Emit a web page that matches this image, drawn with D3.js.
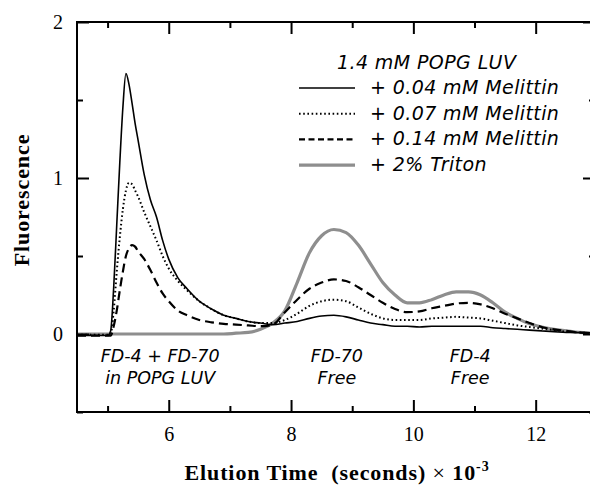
<!DOCTYPE html>
<html lang="en">
<head>
<meta charset="utf-8">
<title>Fluorescence vs elution time</title>
<script src="https://cdn.jsdelivr.net/npm/d3@7"></script>
<style>
  body { margin: 0; background: #fff; }
  .axis path { display: none; }
  .axis line { stroke: #000; stroke-width: 2; }
  .axis text { font-family: "Liberation Serif", serif; font-size: 20px; fill: #000; }
  .lbl { font-family: "DejaVu Sans", sans-serif; font-style: italic; font-size: 19px; letter-spacing: 0.4px; fill: #000; }
  .note { font-family: "DejaVu Sans", sans-serif; font-style: italic; font-size: 17.5px; fill: #000; }
  .title { font-family: "Liberation Serif", serif; font-weight: bold; font-size: 22px; letter-spacing: 0.9px; fill: #000; }
</style>
</head>
<body>
<div id="chart"></div>
<script>
// elution time (seconds x 10^-3), shared by all traces
var time = [4.5, 4.8, 5.0, 5.05, 5.1, 5.15, 5.2, 5.25, 5.3, 5.35, 5.4, 5.45, 5.5, 5.6, 5.7, 5.8, 5.9, 6.0, 6.15, 6.3,
            6.5, 6.7, 6.9, 7.1, 7.3, 7.5, 7.7, 7.9, 8.1, 8.3, 8.5, 8.7, 8.9, 9.1, 9.3, 9.5, 9.7, 9.9, 10.1, 10.3,
            10.5, 10.7, 10.9, 11.1, 11.3, 11.5, 11.7, 11.9, 12.1, 12.3, 12.5, 12.7, 12.97]

var mel004 = [-0.01, -0.01, -0.01, 0.02, 0.3, 0.7, 1.1, 1.45, 1.67, 1.6, 1.48, 1.35, 1.24, 1.02, 0.86, 0.75, 0.6, 0.48, 0.36, 0.29,
              0.21, 0.16, 0.12, 0.1, 0.08, 0.07, 0.06, 0.07, 0.08, 0.1, 0.115, 0.12, 0.11, 0.09, 0.07, 0.06, 0.05, 0.05, 0.045, 0.05,
              0.05, 0.05, 0.05, 0.05, 0.04, 0.035, 0.03, 0.025, 0.02, 0.015, 0.01, 0.01, 0.005]

var mel007 = [-0.005, -0.005, -0.005, 0.0, 0.15, 0.4, 0.62, 0.8, 0.92, 0.97, 0.96, 0.92, 0.88, 0.78, 0.69, 0.6, 0.5, 0.42, 0.34, 0.28,
              0.21, 0.16, 0.12, 0.1, 0.08, 0.07, 0.07, 0.09, 0.13, 0.18, 0.21, 0.22, 0.21, 0.17, 0.13, 0.1, 0.09, 0.09, 0.09, 0.1,
              0.105, 0.11, 0.105, 0.1, 0.085, 0.07, 0.055, 0.045, 0.035, 0.025, 0.015, 0.01, 0.005]

var mel014 = [-0.01, -0.01, -0.01, -0.01, 0.05, 0.15, 0.28, 0.4, 0.5, 0.55, 0.57, 0.56, 0.53, 0.48, 0.41, 0.33, 0.26, 0.21, 0.15, 0.12,
              0.09, 0.075, 0.065, 0.06, 0.055, 0.05, 0.06, 0.14, 0.22, 0.29, 0.33, 0.35, 0.34, 0.3, 0.25, 0.2, 0.16, 0.14, 0.145, 0.165,
              0.18, 0.195, 0.2, 0.19, 0.165, 0.13, 0.1, 0.07, 0.045, 0.03, 0.02, 0.01, 0.005]

var triton = [0.0, 0.0, 0.0, 0.0, 0.0, 0.0, 0.0, 0.0, 0.0, 0.0, 0.0, 0.0, 0.0, 0.0, 0.0, 0.0, 0.0, 0.0, 0.0, 0.0,
              0.0, 0.0, 0.0, 0.005, 0.01, 0.03, 0.07, 0.15, 0.33, 0.52, 0.63, 0.67, 0.65, 0.57, 0.45, 0.33, 0.25, 0.2, 0.2, 0.22,
              0.25, 0.27, 0.27, 0.25, 0.2, 0.14, 0.1, 0.065, 0.045, 0.03, 0.02, 0.01, 0.005]

var seriesNames = ["+ 0.04 mM Melittin", "+ 0.07 mM Melittin", "+ 0.14 mM Melittin", "+ 2% Triton"]
var legendTitle = "1.4 mM POPG LUV"
var xMajor = [6, 8, 10, 12]
var xMinor = [5, 7, 9, 11]
var yMajor = [0, 1, 2]
var yMinor = [-0.5, 0.5, 1.5]
var notes = [
  {t: 5.86, lines: ["FD-4 + FD-70", "in POPG LUV"]},
  {t: 8.75, lines: ["FD-70", "Free"]},
  {t: 10.93, lines: ["FD-4", "Free"]}
]

var w = 590, h = 486
var padL = 77, padR = 595, padT = 22, padB = 412

var svg = d3.select("#chart").append("svg")
            .attr("width", w)
            .attr("height", h)

var xScale = d3.scaleLinear().domain([4.5, 12.97]).range([padL, padR])
var yScale = d3.scaleLinear().domain([-0.5, 2]).range([padB, padT])

// styles for each trace
var styles = [
  {color: "#000", width: 1.6, dash: null},
  {color: "#000", width: 2, dash: "1.6,2.6"},
  {color: "#000", width: 2.2, dash: "9,5"},
  {color: "#8e8e8e", width: 3.2, dash: null}
]
var traces = [mel004, mel007, mel014, triton]

var line = d3.line()
             .x(function(d){ return xScale(d[0]) })
             .y(function(d){ return yScale(d[1]) })
             .curve(d3.curveMonotoneX)

// gray first so black traces sit on top
var order = [3, 2, 1, 0]
order.forEach(function(k){
  var pts = time.map(function(t, i){ return [t, traces[k][i]] })
  svg.append("path")
     .datum(pts)
     .attr("d", line)
     .attr("fill", "none")
     .attr("stroke", styles[k].color)
     .attr("stroke-width", styles[k].width)
     .attr("stroke-dasharray", styles[k].dash)
})

// frame
svg.append("rect")
   .attr("x", padL).attr("y", padT)
   .attr("width", padR - padL).attr("height", padB - padT)
   .attr("fill", "none").attr("stroke", "#000").attr("stroke-width", 2)

// axes, ticks pointing inward
svg.append("g").attr("class", "axis")
   .attr("transform", "translate(0," + padB + ")")
   .call(d3.axisBottom(xScale).tickValues(xMajor).tickSize(-12).tickPadding(15).tickFormat(d3.format("d")))
svg.append("g").attr("class", "axis")
   .attr("transform", "translate(0," + padB + ")")
   .call(d3.axisBottom(xScale).tickValues(xMinor).tickSize(-6).tickFormat(""))
svg.append("g").attr("class", "axis")
   .attr("transform", "translate(0," + padT + ")")
   .call(d3.axisTop(xScale).tickValues(xMajor).tickSize(-12).tickFormat(""))
svg.append("g").attr("class", "axis")
   .attr("transform", "translate(0," + padT + ")")
   .call(d3.axisTop(xScale).tickValues(xMinor).tickSize(-6).tickFormat(""))

svg.append("g").attr("class", "axis")
   .attr("transform", "translate(" + padL + ",0)")
   .call(d3.axisLeft(yScale).tickValues(yMajor).tickSize(-12).tickPadding(14).tickFormat(d3.format("d")))
svg.append("g").attr("class", "axis")
   .attr("transform", "translate(" + padL + ",0)")
   .call(d3.axisLeft(yScale).tickValues(yMinor).tickSize(-6).tickFormat(""))
svg.append("g").attr("class", "axis")
   .attr("transform", "translate(" + padR + ",0)")
   .call(d3.axisRight(yScale).tickValues(yMajor).tickSize(-12).tickFormat(""))
svg.append("g").attr("class", "axis")
   .attr("transform", "translate(" + padR + ",0)")
   .call(d3.axisRight(yScale).tickValues(yMinor).tickSize(-6).tickFormat(""))

// axis titles
svg.append("text").attr("class", "title")
   .attr("transform", "translate(29,200) rotate(-90)")
   .attr("text-anchor", "middle")
   .text("Fluorescence")

var xt = svg.append("text").attr("class", "title")
   .attr("x", 337).attr("y", 480)
   .attr("text-anchor", "middle")
xt.append("tspan").text("Elution Time\u00a0\u00a0(seconds) ")
xt.append("tspan").attr("font-weight", "normal").text("\u00d7")
xt.append("tspan").text(" 10")
xt.append("tspan").attr("font-size", "14px").attr("dy", -9).text("-3")

// legend
svg.append("text").attr("class", "lbl")
   .attr("x", 337).attr("y", 69)
   .text(legendTitle)
seriesNames.forEach(function(name, k){
  var y = 94 + k * 25.7
  svg.append("line")
     .attr("x1", 299).attr("x2", 355)
     .attr("y1", y - 6).attr("y2", y - 6)
     .attr("stroke", styles[k].color)
     .attr("stroke-width", k == 0 ? 1.6 : styles[k].width)
     .attr("stroke-dasharray", k == 2 ? "6,3.5" : styles[k].dash)
  svg.append("text").attr("class", "lbl")
     .attr("x", 370).attr("y", y)
     .text(name)
})

// peak annotations
notes.forEach(function(n){
  n.lines.forEach(function(s, i){
    svg.append("text").attr("class", "note")
       .attr("x", xScale(n.t)).attr("y", 362 + i * 22)
       .attr("text-anchor", "middle")
       .text(s)
  })
})
</script>
</body>
</html>
